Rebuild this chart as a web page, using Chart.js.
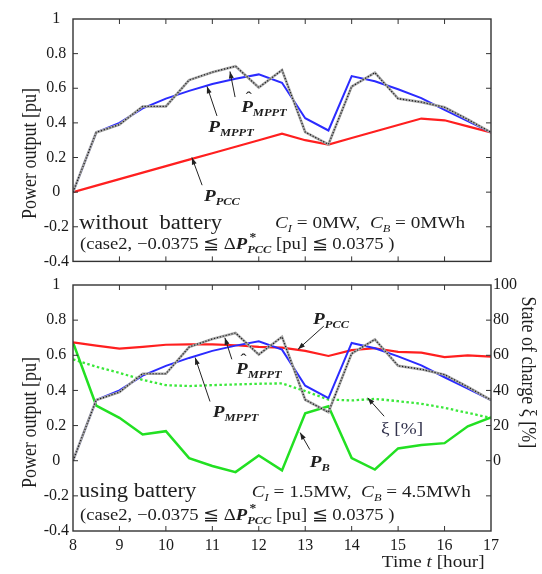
<!DOCTYPE html>
<html>
<head>
<meta charset="utf-8">
<script src="https://cdn.jsdelivr.net/npm/chart.js@4.4.0/dist/chart.umd.min.js"></script>
<style>
body { margin: 0; background: #fff; }
#wrap { position: relative; width: 542px; height: 574px; }
canvas { position: absolute; left: 0; }
#chartTop { top: 0; }
#chartBottom { top: 270px; }
</style>
</head>
<body>
<div id="wrap">
<canvas id="chartTop" width="542" height="275"></canvas>
<canvas id="chartBottom" width="542" height="304"></canvas>
</div>
<script>
// valores (cada media hora)
const hours = [8, 8.5, 9, 9.5, 10, 10.5, 11, 11.5, 12, 12.5, 13, 13.5, 14, 14.5, 15, 15.5, 16, 16.5, 17];
const pMppt = [0, 0.345, 0.40, 0.484, 0.54, 0.585, 0.625, 0.655, 0.68, 0.632, 0.427, 0.356, 0.67, 0.64, 0.594, 0.543, 0.475, 0.41, 0.345];
const pMpptHat = [0, 0.345, 0.39, 0.495, 0.495, 0.647, 0.693, 0.727, 0.604, 0.705, 0.347, 0.276, 0.61, 0.69, 0.54, 0.52, 0.49, 0.42, 0.345];
const pPccNoBattery = [0, 0.0375, 0.075, 0.1125, 0.15, 0.1875, 0.225, 0.2625, 0.3, 0.3375, 0.3, 0.275, 0.3125, 0.35, 0.3875, 0.425, 0.415, 0.38, 0.345];
const pPccBattery = [0.673, 0.655, 0.638, 0.648, 0.66, 0.662, 0.662, 0.657, 0.648, 0.644, 0.625, 0.596, 0.629, 0.64, 0.619, 0.615, 0.59, 0.6, 0.592];
const pBattery = [0.673, 0.314, 0.244, 0.149, 0.168, 0.015, -0.03, -0.065, 0.03, -0.055, 0.27, 0.31, 0.015, -0.05, 0.07, 0.09, 0.1, 0.196, 0.247];
const socPercent = [57.7, 53.5, 50, 46, 43, 42.5, 43, 43.4, 43.8, 44, 39.6, 34.8, 34.3, 35.2, 33.9, 32.4, 30.1, 27.2, 24.4];

const hourTicks = [8, 9, 10, 11, 12, 13, 14, 15, 16, 17];
const powerTicks = [-0.4, -0.2, 0, 0.2, 0.4, 0.6, 0.8, 1];
const socTicks = [-40, -20, 0, 20, 40, 60, 80, 100];

const lineColors = {
    mppt: "#2b2bff",
    hat: "#1a1a1a",
    hatShadow: "#a8a8a8",
    pcc: "#ff1f1f",
    battery: "#22e022",
    soc: "#3ae83a",
};

const serif = '"Liberation Serif", "Times New Roman", serif';
const SX = 1.13; // la figura original está algo estirada a lo ancho
const tickFont = { family: serif, size: 16 };
const font = (style, size) => `${style} ${size}px ${serif}`;

function series(values, color, width, dash, axis) {
    return {
        data: hours.map((h, i) => ({ x: h, y: values[i] })),
        borderColor: color,
        borderWidth: width,
        borderDash: dash || [],
        pointRadius: 0,
        tension: 0,
        fill: false,
        yAxisID: axis || "y",
    };
}

function symbol(main, sub, hat) {
    const parts = [];
    if (hat) parts.push({ t: "\u02C6", f: font("normal", 16), dx: 4, dy: -9, keep: true });
    parts.push({ t: main, f: font("italic bold", 17) });
    parts.push({ t: sub, f: font("italic bold", 11), dy: 4 });
    return parts;
}

function capacityText(ci, cb) {
    return [
        { t: "C", f: font("italic", 17) },
        { t: "I", f: font("italic", 11), dy: 4 },
        { t: ` = ${ci}MW,  `, f: font("normal", 17) },
        { t: "C", f: font("italic", 17) },
        { t: "B", f: font("italic", 11), dy: 4 },
        { t: ` = ${cb}MWh`, f: font("normal", 17) },
    ];
}

const rangeText = [
    { t: "(case2, \u22120.0375 \u2266 \u0394", f: font("normal", 16.5) },
    { t: "P", f: font("italic bold", 16.5) },
    { t: "*", f: font("bold", 12), dx: 2, dy: -8, keep: true },
    { t: "PCC", f: font("italic bold", 11), dy: 4 },
    { t: " [pu] \u2266 0.0375 )", f: font("normal", 16.5) },
];

function partsWidth(ctx, parts) {
    let w = 0;
    parts.forEach((p) => {
        ctx.font = p.f;
        if (!p.keep) w += ctx.measureText(p.t).width;
    });
    return w;
}

function anchor(chart, l) {
    const { chartArea: a, scales } = chart;
    const x = l.h !== undefined ? scales.x.getPixelForValue(l.h) : (l.side === "left" ? a.left : a.right) + l.off;
    const y = l.v !== undefined ? scales.y.getPixelForValue(l.v) : a.bottom + l.below;
    return [x, y];
}

function drawLabel(ctx, chart, l) {
    const [x, y] = anchor(chart, l);
    ctx.save();
    ctx.translate(x, y);
    if (l.rot) {
        ctx.rotate(l.rot);
        ctx.scale(1, SX);
        ctx.textBaseline = "middle";
    } else {
        ctx.scale(SX, 1);
        ctx.textBaseline = "alphabetic";
    }
    ctx.fillStyle = l.color || "#1e1e1e";
    let cx = l.rot ? -partsWidth(ctx, l.parts) / 2 : 0;
    l.parts.forEach((p) => {
        ctx.font = p.f;
        ctx.fillText(p.t, cx + (p.dx || 0), p.dy || 0);
        if (!p.keep) cx += ctx.measureText(p.t).width;
    });
    ctx.restore();
}

function drawArrow(ctx, x1, y1, x2, y2) {
    const ang = Math.atan2(y2 - y1, x2 - x1);
    const len = 7, half = 2.5;
    ctx.beginPath();
    ctx.moveTo(x1, y1);
    ctx.lineTo(x2, y2);
    ctx.stroke();
    ctx.beginPath();
    ctx.moveTo(x2, y2);
    ctx.lineTo(x2 - len * Math.cos(ang) + half * Math.sin(ang), y2 - len * Math.sin(ang) - half * Math.cos(ang));
    ctx.lineTo(x2 - len * Math.cos(ang) - half * Math.sin(ang), y2 - len * Math.sin(ang) + half * Math.cos(ang));
    ctx.closePath();
    ctx.fill();
}

// marco, marcas hacia dentro, flechas y textos
const notesPlugin = {
    id: "notes",
    afterDraw(chart, args, opts) {
        const { ctx, chartArea: a, scales } = chart;
        const seg = (x1, y1, x2, y2) => {
            ctx.beginPath();
            ctx.moveTo(x1, y1);
            ctx.lineTo(x2, y2);
            ctx.stroke();
        };
        ctx.save();
        ctx.strokeStyle = "#333";
        ctx.lineWidth = 1.4;
        ctx.strokeRect(a.left, a.top, a.right - a.left, a.bottom - a.top);
        ctx.lineWidth = 1;
        powerTicks.slice(1, -1).forEach((v) => {
            const y = scales.y.getPixelForValue(v);
            seg(a.left, y, a.left + 5, y);
            seg(a.right - 5, y, a.right, y);
        });
        hourTicks.slice(1, -1).forEach((h) => {
            const x = scales.x.getPixelForValue(h);
            seg(x, a.top, x, a.top + 5);
            seg(x, a.bottom - 5, x, a.bottom);
        });
        ctx.strokeStyle = "#222";
        ctx.fillStyle = "#222";
        (opts.arrows || []).forEach((ar) => {
            drawArrow(
                ctx,
                scales.x.getPixelForValue(ar.from[0]), scales.y.getPixelForValue(ar.from[1]),
                scales.x.getPixelForValue(ar.to[0]), scales.y.getPixelForValue(ar.to[1])
            );
        });
        (opts.labels || []).forEach((l) => drawLabel(ctx, chart, l));
        ctx.restore();
    },
};

function powerScale() {
    return {
        type: "linear",
        position: "left",
        min: -0.4,
        max: 1,
        afterBuildTicks: (s) => { s.ticks = powerTicks.map((v) => ({ value: v })); },
        afterFit: (s) => { s.width = 73; },
        grid: { display: false, drawTicks: false },
        border: { display: false },
        ticks: {
            font: tickFont,
            color: "#1a1a1a",
            padding: 4,
            crossAlign: "center",
            callback: (v) => String(+v.toFixed(1)),
        },
    };
}

function hourScale(showLabels, height) {
    return {
        type: "linear",
        min: 8,
        max: 17,
        afterBuildTicks: (s) => { s.ticks = hourTicks.map((v) => ({ value: v })); },
        afterFit: (s) => { s.height = height; },
        grid: { display: false, drawTicks: false },
        border: { display: false },
        ticks: { display: showLabels, font: tickFont, color: "#1a1a1a", padding: 5, maxRotation: 0, autoSkip: false },
    };
}

function baseOptions(padding, notes) {
    return {
        responsive: false,
        animation: false,
        layout: { padding: padding, autoPadding: false },
        plugins: { legend: { display: false }, tooltip: { enabled: false }, notes: notes },
    };
}

// gráfica superior: sin batería
const topOptions = baseOptions(
    { top: 19, right: 51, left: 0, bottom: 0 },
    {
        arrows: [
            { from: [11.49, 0.549], to: [11.38, 0.697] },
            { from: [11.10, 0.44], to: [10.885, 0.611] },
            { from: [10.78, 0.04], to: [10.56, 0.2] },
        ],
        labels: [
            { h: 11.62, v: 0.463, parts: symbol("P", "MPPT", true) },
            { h: 10.91, v: 0.349, parts: symbol("P", "MPPT") },
            { h: 10.82, v: -0.051, parts: symbol("P", "PCC") },
            { h: 8.13, v: -0.211, parts: [{ t: "without  battery", f: font("normal", 20) }] },
            { h: 12.35, v: -0.206, parts: capacityText("0", "0") },
            { h: 8.15, v: -0.331, parts: rangeText },
            { side: "left", off: -42, v: 0.223, rot: -Math.PI / 2, parts: [{ t: "Power output [pu]", f: font("normal", 18) }] },
        ],
    }
);
topOptions.scales = { x: hourScale(false, 10), y: powerScale() };

new Chart(document.getElementById("chartTop").getContext("2d"), {
    type: "line",
    data: {
        datasets: [
            series(pMpptHat, lineColors.hat, 1.2, [1.2, 1.8]),
            series(pMpptHat, lineColors.hatShadow, 2.6),
            series(pMppt, lineColors.mppt, 2),
            series(pPccNoBattery, lineColors.pcc, 2.2),
        ],
    },
    options: topOptions,
    plugins: [notesPlugin],
});

// gráfica inferior: con batería
const bottomOptions = baseOptions(
    { top: 15, right: 0, left: 0, bottom: 0 },
    {
        arrows: [
            { from: [13.40, 0.766], to: [12.845, 0.634] },
            { from: [11.42, 0.577], to: [11.27, 0.70] },
            { from: [10.95, 0.337], to: [10.63, 0.587] },
            { from: [13.10, 0.063], to: [12.89, 0.16] },
            { from: [14.70, 0.253], to: [14.345, 0.358] },
        ],
        labels: [
            { h: 13.17, v: 0.777, parts: symbol("P", "PCC") },
            { h: 11.51, v: 0.491, parts: symbol("P", "MPPT", true) },
            { h: 11.01, v: 0.246, parts: symbol("P", "MPPT") },
            { h: 13.10, v: -0.033, parts: symbol("P", "B") },
            { h: 14.63, v: 0.154, color: "#33334d", parts: [{ t: "\u03BE [%]", f: font("normal", 17) }] },
            { h: 8.13, v: -0.206, parts: [{ t: "using battery", f: font("normal", 20) }] },
            { h: 11.85, v: -0.206, parts: capacityText("1.5", "4.5") },
            { h: 8.15, v: -0.337, parts: rangeText },
            { side: "left", off: -42, v: 0.217, rot: -Math.PI / 2, parts: [{ t: "Power output [pu]", f: font("normal", 18) }] },
            { side: "right", off: 36, v: 0.503, rot: Math.PI / 2, parts: [{ t: "State of charge \u03BE [%]", f: font("normal", 18) }] },
            {
                h: 14.65,
                below: 36,
                parts: [
                    { t: "Time ", f: font("normal", 17) },
                    { t: "t", f: font("italic", 17) },
                    { t: " [hour]", f: font("normal", 17) },
                ],
            },
        ],
    }
);
bottomOptions.scales = {
    x: hourScale(true, 43),
    y: powerScale(),
    y2: {
        type: "linear",
        position: "right",
        min: -40,
        max: 100,
        afterBuildTicks: (s) => { s.ticks = socTicks.map((v) => ({ value: v })); },
        afterFit: (s) => { s.width = 51; },
        grid: { display: false, drawTicks: false },
        border: { display: false },
        ticks: {
            font: tickFont,
            color: "#1a1a1a",
            padding: 2,
            crossAlign: "near",
            callback: (v) => (v >= 0 ? String(v) : ""),
        },
    },
};

new Chart(document.getElementById("chartBottom").getContext("2d"), {
    type: "line",
    data: {
        datasets: [
            series(pMpptHat, lineColors.hat, 1.2, [1.2, 1.8]),
            series(pMpptHat, lineColors.hatShadow, 2.6),
            series(pMppt, lineColors.mppt, 2),
            series(pPccBattery, lineColors.pcc, 2.2),
            series(pBattery, lineColors.battery, 2.5),
            series(socPercent, lineColors.soc, 2.3, [2.5, 2.5], "y2"),
        ],
    },
    options: bottomOptions,
    plugins: [notesPlugin],
});
</script>
</body>
</html>
